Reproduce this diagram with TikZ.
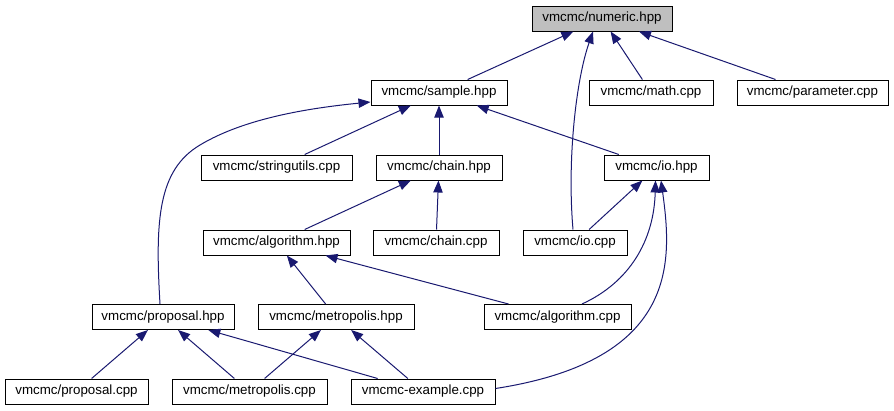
\documentclass[tikz,border=0pt]{standalone}
\usepackage{fontspec}
\setmainfont{Liberation Sans}
\usetikzlibrary{arrows.meta,calc}
\definecolor{edgeblue}{HTML}{191970}
\definecolor{rootgray}{HTML}{BFBFBF}
\begin{document}
\begin{tikzpicture}[x=0.75pt,y=-0.75pt,
  box/.style={draw=black,line width=0.75pt,fill=white,minimum height=18.75pt,inner sep=0pt,font=\fontsize{10}{12}\selectfont},
  edge/.style={draw=edgeblue,line width=0.75pt,-{Triangle[length=9pt,width=7pt]}}]
\useasboundingbox (0,0) rectangle (894,411);
\node[box,fill=rootgray,minimum width=105pt] (numeric) at (602,18.5) {vmcmc/numeric.hpp};
\node[box,minimum width=102pt] (sample) at (439,92.5) {vmcmc/sample.hpp};
\node[box,minimum width=93pt] (math) at (651,92.5) {vmcmc/math.cpp};
\node[box,minimum width=113.25pt] (param) at (812.5,92.5) {vmcmc/parameter.cpp};
\node[box,minimum width=113.25pt] (stringu) at (276.5,167.5) {vmcmc/stringutils.cpp};
\node[box,minimum width=94.5pt] (chainh) at (439,167.5) {vmcmc/chain.hpp};
\node[box,minimum width=78.75pt] (ioh) at (656.5,167.5) {vmcmc/io.hpp};
\node[box,minimum width=110.25pt] (algoh) at (276.5,242.5) {vmcmc/algorithm.hpp};
\node[box,minimum width=94.5pt] (chainc) at (436,242.5) {vmcmc/chain.cpp};
\node[box,minimum width=78pt] (ioc) at (575,242.5) {vmcmc/io.cpp};
\node[box,minimum width=110.25pt] (algoc) at (557.5,317) {vmcmc/algorithm.cpp};
\node[box,minimum width=106.5pt] (proph) at (163,317) {vmcmc/proposal.hpp};
\node[box,minimum width=117pt] (meth) at (336,317) {vmcmc/metropolis.hpp};
\node[box,minimum width=107.25pt] (propc) at (76.5,391.5) {vmcmc/proposal.cpp};
\node[box,minimum width=116.25pt] (metc) at (249.5,391.5) {vmcmc/metropolis.cpp};
\node[box,minimum width=108pt] (ex) at (423,391.5) {vmcmc-example.cpp};

\draw[edge] (sample) -- (numeric);
\draw[edge] (math) -- (numeric);
\draw[edge] (param) -- (numeric);
\draw[edge] ($(ioc.north)+(-2,0)$) .. controls (567,160) and (576,80) .. ($(numeric.south)+(-9,0)$);
\draw[edge] ($(proph.north)+(-3,0)$) .. controls (155,220) and (158,170) .. (200,145) .. controls (245,118) and (310,108) .. ($(sample.west)+(0,9.5)$);
\draw[edge] (stringu) -- (sample);
\draw[edge] (chainh) -- (sample);
\draw[edge] (ioh) -- (sample);
\draw[edge] (algoh) -- (chainh);
\draw[edge] (chainc) -- (chainh);
\draw[edge] (ioc) -- (ioh);
\draw[edge] ($(algoc.north)+(24.5,0)$) .. controls (630,282) and (654,240) .. ($(ioh.south)+(-1,0)$);
\draw[edge] ($(ex.east)+(0,-3)$) .. controls (680,360) and (672,260) .. ($(ioh.south)+(4.5,0)$);
\draw[edge] (meth) -- (algoh);
\draw[edge] (algoc) -- (algoh);
\draw[edge] (propc) -- (proph);
\draw[edge] (metc) -- (proph);
\draw[edge] (ex) -- (proph);
\draw[edge] (metc) -- (meth);
\draw[edge] (ex) -- (meth);
\end{tikzpicture}
\end{document}
